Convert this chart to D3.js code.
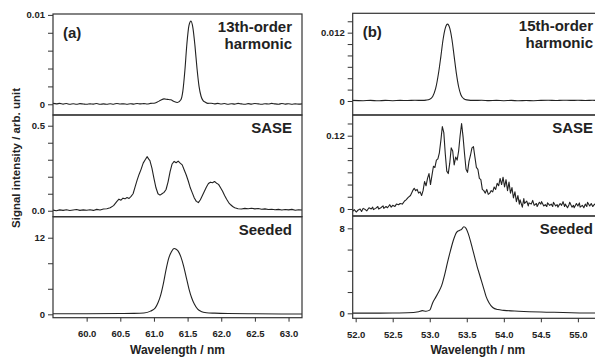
<!DOCTYPE html>
<html>
<head>
<meta charset="utf-8">
<script src="https://cdn.jsdelivr.net/npm/d3@7"></script>
<style>
  body { margin: 0; background: #fff; }
  svg { display: block; font-family: Arial, "Liberation Sans", sans-serif; }
</style>
</head>
<body>
<svg id="chart" width="595" height="358"></svg>
<script>
// spectra: [wavelength nm, signal]
const harm13 = [[59.50,0.0001],[59.55,0.00005],[59.60,0.0001],[59.65,0.00002],[59.70,0.00008],[59.75,0],[59.80,0.00006],[59.85,0.00001],[59.90,0.00007],[59.95,0.00003],[60.00,0],[60.05,0.00005],[60.10,0.00002],[60.15,0.00008],[60.20,0],[60.25,0.00004],[60.30,0],[60.35,0.00006],[60.40,0.00001],[60.45,0.00009],[60.50,0.00003],[60.55,0.00005],[60.60,0],[60.65,0.00006],[60.70,0.00002],[60.75,0.00008],[60.80,0.00004],[60.85,0.00007],[60.90,0.00003],[60.95,0.0001],[61.00,0.00012],[61.05,0.00025],[61.10,0.00045],[61.15,0.0006],[61.20,0.00055],[61.25,0.0005],[61.30,0.0003],[61.35,0.0002],[61.40,0.0005],[61.43,0.0015],[61.46,0.0038],[61.49,0.0068],[61.52,0.0088],[61.55,0.0093],[61.58,0.0085],[61.61,0.0065],[61.64,0.004],[61.67,0.002],[61.70,0.0009],[61.73,0.0004],[61.76,0.00025],[61.80,0.0001],[61.85,0.00012],[61.90,0.00005],[61.95,0.0001],[62.00,0.00003],[62.05,0.00008],[62.10,0],[62.15,0.00006],[62.20,0.00002],[62.25,0.0001],[62.30,0.00004],[62.35,0],[62.40,0.00007],[62.45,0.00002],[62.50,0.00009],[62.55,0.00004],[62.60,0],[62.65,0.00006],[62.70,0.00003],[62.75,0.0001],[62.80,0.00004],[62.85,0.00001],[62.90,0.00008],[62.95,0.00002],[63.00,0.00006],[63.05,0],[63.10,0.00005],[63.15,0.00002],[63.20,0.00004]]

const saseA = [[59.50,0.004],[59.55,0],[59.60,0.005],[59.65,0.002],[59.70,0.006],[59.75,0.001],[59.80,0.004],[59.85,0.007],[59.90,0.002],[59.95,0.005],[60.00,0.003],[60.05,0.006],[60.10,0.002],[60.15,0.008],[60.20,0.004],[60.25,0.010],[60.30,0.012],[60.35,0.018],[60.40,0.030],[60.45,0.055],[60.48,0.068],[60.51,0.062],[60.54,0.074],[60.57,0.070],[60.60,0.078],[60.63,0.072],[60.66,0.085],[60.69,0.100],[60.72,0.140],[60.75,0.180],[60.78,0.215],[60.81,0.245],[60.84,0.280],[60.87,0.300],[60.90,0.318],[60.92,0.305],[60.94,0.295],[60.97,0.250],[61.00,0.190],[61.03,0.135],[61.06,0.100],[61.09,0.092],[61.12,0.100],[61.15,0.108],[61.18,0.125],[61.21,0.170],[61.24,0.230],[61.27,0.275],[61.30,0.290],[61.33,0.282],[61.36,0.292],[61.39,0.280],[61.42,0.270],[61.45,0.240],[61.48,0.210],[61.51,0.175],[61.54,0.135],[61.57,0.105],[61.60,0.075],[61.63,0.055],[61.66,0.048],[61.69,0.065],[61.72,0.090],[61.75,0.115],[61.78,0.140],[61.81,0.160],[61.84,0.168],[61.87,0.165],[61.90,0.172],[61.93,0.162],[61.96,0.155],[61.99,0.135],[62.02,0.115],[62.05,0.090],[62.08,0.068],[62.11,0.048],[62.14,0.035],[62.17,0.025],[62.20,0.018],[62.25,0.012],[62.30,0.010],[62.35,0.014],[62.40,0.012],[62.45,0.015],[62.50,0.011],[62.55,0.013],[62.60,0.009],[62.65,0.011],[62.70,0.007],[62.75,0.009],[62.80,0.006],[62.85,0.008],[62.90,0.004],[62.95,0.007],[63.00,0.005],[63.05,0.008],[63.10,0.003],[63.15,0.006],[63.20,0.004]]

const seededA = [[59.5,0.10],[60.0,0.10],[60.5,0.12],[60.7,0.14],[60.85,0.2],[60.95,0.5],[61.02,1.0],[61.06,1.8],[61.10,3.0],[61.14,4.8],[61.18,7.0],[61.22,8.8],[61.26,9.8],[61.30,10.3],[61.33,10.2],[61.36,9.9],[61.40,9.0],[61.44,7.6],[61.48,5.8],[61.52,4.0],[61.56,2.6],[61.60,1.6],[61.65,0.8],[61.70,0.45],[61.78,0.25],[61.9,0.18],[62.1,0.12],[62.5,0.08],[63.2,0.05]]

const harm15 = [[51.95,0.0001],[52.1,0.00005],[52.2,0.0001],[52.3,0.00003],[52.4,0.0001],[52.5,0.00005],[52.6,0.0001],[52.7,0.00008],[52.8,0.00012],[52.9,0.0001],[52.95,0.00015],[53.0,0.0003],[53.04,0.0008],[53.08,0.0022],[53.12,0.005],[53.15,0.0078],[53.18,0.0108],[53.21,0.0128],[53.24,0.0135],[53.27,0.0128],[53.30,0.0108],[53.33,0.0078],[53.36,0.0048],[53.39,0.0025],[53.42,0.0011],[53.46,0.0004],[53.5,0.0002],[53.6,0.0001],[53.7,0.00012],[53.8,0.00006],[53.9,0.0001],[54.0,0.00005],[54.1,0.0001],[54.2,0.00004],[54.3,0.00009],[54.4,0.00005],[54.5,0.0001],[54.6,0.00012],[54.7,0.00008],[54.8,0.00014],[54.9,0.0001],[55.0,0.00012],[55.1,0.00008],[55.2,0.00012],[55.3,0.0001],[55.45,0.0001]]

const saseB = [[51.96,-0.004],[51.98,-0.001],[52.01,-0.005],[52.03,-0.002],[52.06,0.000],[52.08,-0.004],[52.10,0.001],[52.13,-0.001],[52.15,-0.003],[52.18,0.002],[52.21,0.000],[52.23,0.003],[52.24,-0.001],[52.27,0.001],[52.30,0.004],[52.31,0.000],[52.34,0.002],[52.37,0.005],[52.38,0.001],[52.41,0.004],[52.43,0.002],[52.46,0.007],[52.48,0.003],[52.50,0.006],[52.53,0.004],[52.55,0.008],[52.58,0.007],[52.60,0.009],[52.63,0.008],[52.66,0.013],[52.68,0.015],[52.71,0.019],[52.74,0.022],[52.77,0.030],[52.79,0.034],[52.81,0.030],[52.83,0.032],[52.85,0.026],[52.87,0.028],[52.89,0.022],[52.91,0.030],[52.93,0.045],[52.95,0.038],[52.97,0.050],[52.99,0.058],[53.01,0.040],[53.03,0.055],[53.05,0.070],[53.07,0.068],[53.09,0.080],[53.11,0.082],[53.13,0.092],[53.15,0.112],[53.17,0.135],[53.19,0.125],[53.21,0.090],[53.23,0.062],[53.25,0.058],[53.27,0.075],[53.29,0.100],[53.31,0.095],[53.33,0.072],[53.35,0.085],[53.37,0.080],[53.39,0.095],[53.41,0.120],[53.43,0.140],[53.45,0.118],[53.47,0.090],[53.49,0.065],[53.51,0.060],[53.53,0.078],[53.55,0.088],[53.57,0.100],[53.59,0.102],[53.61,0.085],[53.63,0.068],[53.65,0.065],[53.67,0.050],[53.69,0.048],[53.71,0.032],[53.73,0.030],[53.75,0.026],[53.77,0.032],[53.79,0.024],[53.81,0.026],[53.83,0.030],[53.85,0.028],[53.87,0.036],[53.89,0.032],[53.91,0.042],[53.93,0.038],[53.95,0.050],[53.97,0.040],[53.99,0.052],[54.01,0.036],[54.03,0.048],[54.05,0.030],[54.07,0.044],[54.09,0.026],[54.11,0.035],[54.13,0.018],[54.15,0.028],[54.17,0.012],[54.19,0.022],[54.21,0.008],[54.22,0.015],[54.25,0.003],[54.27,0.017],[54.28,0.009],[54.31,0.013],[54.33,0.005],[54.34,0.010],[54.37,0.008],[54.39,0.014],[54.41,0.006],[54.44,0.009],[54.45,0.004],[54.48,0.011],[54.50,0.008],[54.51,0.012],[54.54,0.005],[54.56,0.007],[54.58,0.004],[54.59,0.010],[54.62,0.006],[54.64,0.008],[54.66,0.004],[54.67,0.011],[54.70,0.005],[54.72,0.007],[54.73,0.003],[54.76,0.009],[54.78,0.006],[54.80,0.012],[54.82,0.004],[54.83,0.008],[54.86,0.002],[54.88,0.007],[54.89,0.011],[54.92,0.003],[54.94,0.006],[54.95,0.002],[54.98,0.009],[55.00,0.005],[55.02,0.010],[55.03,0.003],[55.06,0.006],[55.08,0.002],[55.10,0.008],[55.12,0.004],[55.13,0.011],[55.16,0.005],[55.18,0.009],[55.20,0.004],[55.22,0.007],[55.25,0.010],[55.28,0.005],[55.32,0.008],[55.37,0.006],[55.42,0.007]]

const seededB = [[51.96,0.02],[52.2,0.02],[52.5,0.03],[52.7,0.05],[52.85,0.15],[52.9,0.25],[52.95,0.2],[53.0,0.3],[53.04,1.0],[53.08,1.5],[53.12,2.0],[53.16,2.6],[53.20,3.6],[53.24,4.8],[53.28,5.9],[53.32,6.9],[53.36,7.6],[53.40,7.8],[53.43,7.9],[53.46,8.15],[53.49,8.0],[53.52,7.5],[53.55,6.8],[53.58,6.0],[53.61,5.2],[53.64,4.4],[53.67,3.7],[53.70,3.0],[53.73,2.3],[53.76,1.6],[53.80,1.0],[53.85,0.55],[53.92,0.35],[54.0,0.28],[54.2,0.2],[54.5,0.12],[54.8,0.08],[55.1,0.03],[55.42,0.02]]

// axis ticks and labels
const xTicksA = [60.0, 60.5, 61.0, 61.5, 62.0, 62.5, 63.0]
const xTicksB = [52.0, 52.5, 53.0, 53.5, 54.0, 54.5, 55.0]
const harm13Ticks = [0, 0.002, 0.004, 0.006, 0.008, 0.01]
const harm13Labels = ['0', '', '', '', '', '0.01']
const saseATicks = [0, 0.1, 0.2, 0.3, 0.4, 0.5]
const saseALabels = ['0.0', '', '', '', '', '0.5']
const seededATicks = [0, 4, 8, 12]
const seededALabels = ['0', '', '', '12']
const harm15Ticks = [0, 0.002, 0.004, 0.006, 0.008, 0.01, 0.012, 0.014]
const harm15Labels = ['0', '', '', '', '', '', '0.012', '']
const saseBTicks = [0, 0.02, 0.04, 0.06, 0.08, 0.1, 0.12, 0.14]
const saseBLabels = ['0', '', '', '', '', '', '0.12', '']
const seededBTicks = [0, 2, 4, 6, 8]
const seededBLabels = ['0', '', '', '', '8']

const xTitle = 'Wavelength / nm'
const yTitle = 'Signal intensity / arb. unit'

const ink = '#222'
const svg = d3.select('#chart')

const panels = [
  { left: 53, right: 302, nameX: 292, xdom: [59.5, 63.2], xticks: xTicksA, tag: '(a)',
    rows: [
      { top: 14, bottom: 115, ydom: [-0.0012, 0.0101], data: harm13, ticks: harm13Ticks, labels: harm13Labels, name: ['13th-order', 'harmonic'], smooth: true },
      { top: 115, bottom: 216.7, ydom: [-0.035, 0.563], data: saseA, ticks: saseATicks, labels: saseALabels, name: ['SASE'] },
      { top: 216.7, bottom: 317.7, ydom: [-0.53, 15.29], data: seededA, ticks: seededATicks, labels: seededALabels, name: ['Seeded'], smooth: true }
    ] },
  // panel b runs off the right edge of the page, as in the figure
  { left: 352.7, right: 609, nameX: 593, xdom: [51.96, 55.42], xticks: xTicksB, tag: '(b)',
    rows: [
      { top: 13.3, bottom: 115, ydom: [-0.00246, 0.0154], data: harm15, ticks: harm15Ticks, labels: harm15Labels, name: ['15th-order', 'harmonic'], smooth: true },
      { top: 115, bottom: 216, ydom: [-0.0115, 0.1539], data: saseB, ticks: saseBTicks, labels: saseBLabels, name: ['SASE'] },
      { top: 216, bottom: 318.3, ydom: [-0.47, 9.16], data: seededB, ticks: seededBTicks, labels: seededBLabels, name: ['Seeded'], smooth: true }
    ] }
]

panels.forEach((p, pi) => {
  const x = d3.scaleLinear().domain(p.xdom).range([p.left, p.right])
  const g = svg.append('g')

  p.rows.forEach((r, ri) => {
    const y = d3.scaleLinear().domain(r.ydom).range([r.bottom, r.top])
    const clipId = `clip-${pi}-${ri}`
    svg.append('clipPath').attr('id', clipId)
      .append('rect').attr('x', p.left).attr('y', r.top)
      .attr('width', p.right - p.left).attr('height', r.bottom - r.top)

    const line = d3.line()
      .x(d => x(d[0]))
      .y(d => y(d[1]))
      .curve(r.smooth ? d3.curveMonotoneX : d3.curveLinear)

    g.append('path')
      .datum(r.data)
      .attr('clip-path', `url(#${clipId})`)
      .attr('d', line)
      .attr('fill', 'none')
      .attr('stroke', ink)
      .attr('stroke-width', 1.1)
      .attr('stroke-linejoin', 'round')

    g.append('rect')
      .attr('x', p.left).attr('y', r.top)
      .attr('width', p.right - p.left).attr('height', r.bottom - r.top)
      .attr('fill', 'none').attr('stroke', '#333').attr('stroke-width', 1.2)

    const yAxis = g.append('g')
      .attr('transform', `translate(${p.left},0)`)
      .call(d3.axisLeft(y).tickValues(r.ticks).tickFormat((d, i) => r.labels[i]).tickSize(5).tickPadding(3))
    yAxis.select('.domain').remove()
    yAxis.selectAll('line').attr('stroke', '#333').attr('stroke-width', 1)
    yAxis.selectAll('text').attr('font-size', 9.5).attr('font-weight', 'bold').attr('fill', ink).attr('font-family', null)

    // row name, right aligned near the frame's right side
    const nameText = g.append('text')
      .attr('text-anchor', 'end')
      .attr('font-size', 15).attr('font-weight', 'bold').attr('fill', ink)
    r.name.forEach((s, k) => {
      nameText.append('tspan').attr('x', p.nameX)
        .attr('y', r.top + 18 + k * 17).text(s)
    })

    if (ri === p.rows.length - 1) {
      const xAxis = g.append('g')
        .attr('transform', `translate(0,${r.bottom})`)
        .call(d3.axisBottom(x).tickValues(p.xticks).tickFormat(d3.format('.1f')).tickSize(4).tickPadding(9))
      xAxis.select('.domain').remove()
      xAxis.selectAll('line').attr('stroke', '#333').attr('stroke-width', 1)
      xAxis.selectAll('text').attr('font-size', 9.5).attr('font-weight', 'bold').attr('fill', ink).attr('font-family', null)

      g.append('text')
        .attr('x', (p.left + p.right) / 2 - (pi ? 3 : 0)).attr('y', 354)
        .attr('text-anchor', 'middle')
        .attr('font-size', 12).attr('font-weight', 'bold').attr('fill', ink)
        .text(xTitle)
    }
  })

  g.append('text')
    .attr('x', p.left + 10).attr('y', p.rows[0].top + 24)
    .attr('font-size', 15).attr('font-weight', 'bold').attr('fill', ink)
    .text(p.tag)
})

svg.append('text')
  .attr('transform', 'translate(20,158) rotate(-90)')
  .attr('text-anchor', 'middle')
  .attr('font-size', 11.5).attr('font-weight', 'bold').attr('fill', ink)
  .text(yTitle)
</script>
</body>
</html>
